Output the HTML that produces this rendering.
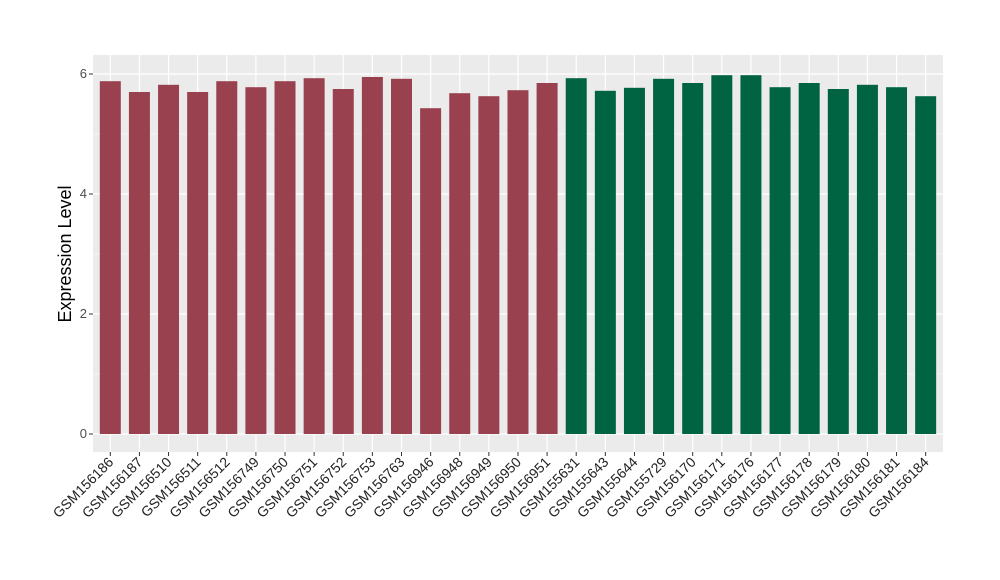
<!DOCTYPE html>
<html><head><meta charset="utf-8"><style>body{margin:0;background:#fff}svg{display:block}</style></head><body>
<svg width="1000" height="580" xmlns="http://www.w3.org/2000/svg" font-family="Liberation Sans, sans-serif">
<rect x="93" y="55" width="850" height="397" fill="#ebebeb"/>
<g stroke="#fff" stroke-width="0.6">
<line x1="93" x2="943" y1="374" y2="374"/><line x1="93" x2="943" y1="254" y2="254"/><line x1="93" x2="943" y1="134" y2="134"/>
</g>
<g stroke="#fff" stroke-width="1.2">
<line x1="93" x2="943" y1="434" y2="434"/><line x1="93" x2="943" y1="314" y2="314"/><line x1="93" x2="943" y1="194" y2="194"/><line x1="93" x2="943" y1="74" y2="74"/>
<line x1="110.3" x2="110.3" y1="55" y2="452"/><line x1="139.42" x2="139.42" y1="55" y2="452"/><line x1="168.54" x2="168.54" y1="55" y2="452"/><line x1="197.66" x2="197.66" y1="55" y2="452"/><line x1="226.78" x2="226.78" y1="55" y2="452"/><line x1="255.9" x2="255.9" y1="55" y2="452"/><line x1="285.02" x2="285.02" y1="55" y2="452"/><line x1="314.14" x2="314.14" y1="55" y2="452"/><line x1="343.26" x2="343.26" y1="55" y2="452"/><line x1="372.38" x2="372.38" y1="55" y2="452"/><line x1="401.5" x2="401.5" y1="55" y2="452"/><line x1="430.62" x2="430.62" y1="55" y2="452"/><line x1="459.74" x2="459.74" y1="55" y2="452"/><line x1="488.86" x2="488.86" y1="55" y2="452"/><line x1="517.98" x2="517.98" y1="55" y2="452"/><line x1="547.1" x2="547.1" y1="55" y2="452"/><line x1="576.22" x2="576.22" y1="55" y2="452"/><line x1="605.34" x2="605.34" y1="55" y2="452"/><line x1="634.46" x2="634.46" y1="55" y2="452"/><line x1="663.58" x2="663.58" y1="55" y2="452"/><line x1="692.7" x2="692.7" y1="55" y2="452"/><line x1="721.82" x2="721.82" y1="55" y2="452"/><line x1="750.94" x2="750.94" y1="55" y2="452"/><line x1="780.06" x2="780.06" y1="55" y2="452"/><line x1="809.18" x2="809.18" y1="55" y2="452"/><line x1="838.3" x2="838.3" y1="55" y2="452"/><line x1="867.42" x2="867.42" y1="55" y2="452"/><line x1="896.54" x2="896.54" y1="55" y2="452"/><line x1="925.66" x2="925.66" y1="55" y2="452"/>
</g>
<g fill="#9a4150">
<rect x="99.8" y="81.2" width="21" height="352.8"/>
<rect x="128.92" y="92" width="21" height="342"/>
<rect x="158.04" y="84.8" width="21" height="349.2"/>
<rect x="187.16" y="92" width="21" height="342"/>
<rect x="216.28" y="81.2" width="21" height="352.8"/>
<rect x="245.4" y="87.2" width="21" height="346.8"/>
<rect x="274.52" y="81.2" width="21" height="352.8"/>
<rect x="303.64" y="78.2" width="21" height="355.8"/>
<rect x="332.76" y="89" width="21" height="345"/>
<rect x="361.88" y="77" width="21" height="357"/>
<rect x="391" y="78.8" width="21" height="355.2"/>
<rect x="420.12" y="108.2" width="21" height="325.8"/>
<rect x="449.24" y="93.2" width="21" height="340.8"/>
<rect x="478.36" y="96.2" width="21" height="337.8"/>
<rect x="507.48" y="90.2" width="21" height="343.8"/>
<rect x="536.6" y="83" width="21" height="351"/>
</g>
<g fill="#006442">
<rect x="565.72" y="78.2" width="21" height="355.8"/>
<rect x="594.84" y="90.8" width="21" height="343.2"/>
<rect x="623.96" y="87.8" width="21" height="346.2"/>
<rect x="653.08" y="78.8" width="21" height="355.2"/>
<rect x="682.2" y="83" width="21" height="351"/>
<rect x="711.32" y="75.2" width="21" height="358.8"/>
<rect x="740.44" y="75.2" width="21" height="358.8"/>
<rect x="769.56" y="87.2" width="21" height="346.8"/>
<rect x="798.68" y="83" width="21" height="351"/>
<rect x="827.8" y="89" width="21" height="345"/>
<rect x="856.92" y="84.8" width="21" height="349.2"/>
<rect x="886.04" y="87.2" width="21" height="346.8"/>
<rect x="915.16" y="96.2" width="21" height="337.8"/>
</g>
<g font-size="13" fill="#4d4d4d" text-anchor="end">
<text x="87" y="438">0</text><text x="87" y="318">2</text><text x="87" y="198">4</text><text x="87" y="78">6</text>
</g>
<g stroke="#333" stroke-width="1"><line x1="89" x2="93" y1="434" y2="434"/><line x1="89" x2="93" y1="314" y2="314"/><line x1="89" x2="93" y1="194" y2="194"/><line x1="89" x2="93" y1="74" y2="74"/></g>
<text transform="translate(71,254) rotate(-90)" font-size="18" text-anchor="middle" fill="#000">Expression Level</text>
<g font-size="14" fill="#222" text-anchor="end">
<text transform="translate(114.3,463) rotate(-45)">GSM156186</text>
<text transform="translate(143.42,463) rotate(-45)">GSM156187</text>
<text transform="translate(172.54,463) rotate(-45)">GSM156510</text>
<text transform="translate(201.66,463) rotate(-45)">GSM156511</text>
<text transform="translate(230.78,463) rotate(-45)">GSM156512</text>
<text transform="translate(259.9,463) rotate(-45)">GSM156749</text>
<text transform="translate(289.02,463) rotate(-45)">GSM156750</text>
<text transform="translate(318.14,463) rotate(-45)">GSM156751</text>
<text transform="translate(347.26,463) rotate(-45)">GSM156752</text>
<text transform="translate(376.38,463) rotate(-45)">GSM156753</text>
<text transform="translate(405.5,463) rotate(-45)">GSM156763</text>
<text transform="translate(434.62,463) rotate(-45)">GSM156946</text>
<text transform="translate(463.74,463) rotate(-45)">GSM156948</text>
<text transform="translate(492.86,463) rotate(-45)">GSM156949</text>
<text transform="translate(521.98,463) rotate(-45)">GSM156950</text>
<text transform="translate(551.1,463) rotate(-45)">GSM156951</text>
<text transform="translate(580.22,463) rotate(-45)">GSM155631</text>
<text transform="translate(609.34,463) rotate(-45)">GSM155643</text>
<text transform="translate(638.46,463) rotate(-45)">GSM155644</text>
<text transform="translate(667.58,463) rotate(-45)">GSM155729</text>
<text transform="translate(696.7,463) rotate(-45)">GSM156170</text>
<text transform="translate(725.82,463) rotate(-45)">GSM156171</text>
<text transform="translate(754.94,463) rotate(-45)">GSM156176</text>
<text transform="translate(784.06,463) rotate(-45)">GSM156177</text>
<text transform="translate(813.18,463) rotate(-45)">GSM156178</text>
<text transform="translate(842.3,463) rotate(-45)">GSM156179</text>
<text transform="translate(871.42,463) rotate(-45)">GSM156180</text>
<text transform="translate(900.54,463) rotate(-45)">GSM156181</text>
<text transform="translate(929.66,463) rotate(-45)">GSM156184</text>
</g>
<g stroke="#333" stroke-width="1">
<line x1="110.3" x2="110.3" y1="452" y2="456"/><line x1="139.42" x2="139.42" y1="452" y2="456"/><line x1="168.54" x2="168.54" y1="452" y2="456"/><line x1="197.66" x2="197.66" y1="452" y2="456"/><line x1="226.78" x2="226.78" y1="452" y2="456"/><line x1="255.9" x2="255.9" y1="452" y2="456"/><line x1="285.02" x2="285.02" y1="452" y2="456"/><line x1="314.14" x2="314.14" y1="452" y2="456"/><line x1="343.26" x2="343.26" y1="452" y2="456"/><line x1="372.38" x2="372.38" y1="452" y2="456"/><line x1="401.5" x2="401.5" y1="452" y2="456"/><line x1="430.62" x2="430.62" y1="452" y2="456"/><line x1="459.74" x2="459.74" y1="452" y2="456"/><line x1="488.86" x2="488.86" y1="452" y2="456"/><line x1="517.98" x2="517.98" y1="452" y2="456"/><line x1="547.1" x2="547.1" y1="452" y2="456"/><line x1="576.22" x2="576.22" y1="452" y2="456"/><line x1="605.34" x2="605.34" y1="452" y2="456"/><line x1="634.46" x2="634.46" y1="452" y2="456"/><line x1="663.58" x2="663.58" y1="452" y2="456"/><line x1="692.7" x2="692.7" y1="452" y2="456"/><line x1="721.82" x2="721.82" y1="452" y2="456"/><line x1="750.94" x2="750.94" y1="452" y2="456"/><line x1="780.06" x2="780.06" y1="452" y2="456"/><line x1="809.18" x2="809.18" y1="452" y2="456"/><line x1="838.3" x2="838.3" y1="452" y2="456"/><line x1="867.42" x2="867.42" y1="452" y2="456"/><line x1="896.54" x2="896.54" y1="452" y2="456"/><line x1="925.66" x2="925.66" y1="452" y2="456"/>
</g>
</svg>
</body></html>
